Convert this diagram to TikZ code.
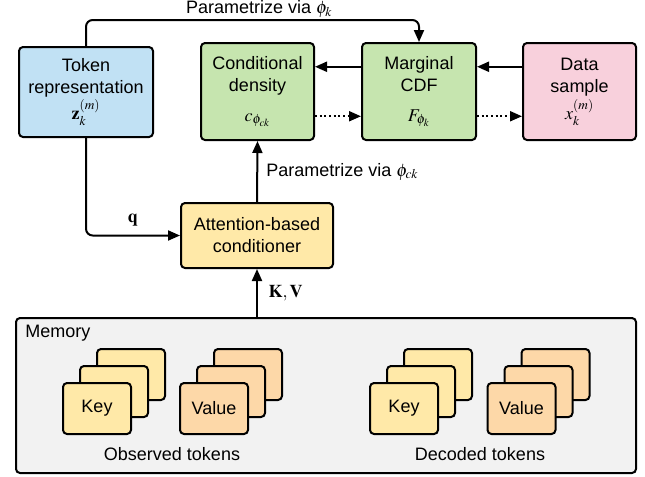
\documentclass[tikz,border=0pt]{standalone}
\usepackage{mathptmx}
\usepackage[no-math]{fontspec}
\setmainfont{Liberation Sans}
\usepackage{tikz}
\usetikzlibrary{calc,arrows.meta}

\definecolor{tokblue}{HTML}{C1E1F4}
\definecolor{densgreen}{HTML}{C6E5AF}
\definecolor{datapink}{HTML}{F8D0DC}
\definecolor{keyyellow}{HTML}{FFE9A8}
\definecolor{valorange}{HTML}{FDD8A8}
\definecolor{memgray}{HTML}{F2F2F2}

\tikzset{
	box/.style={draw, line width=1.5pt, rounded corners=3pt, align=center,
		font=\fontsize{13.5}{16.5}\selectfont, inner sep=0pt},
	card/.style={box, minimum width=51pt, minimum height=38.25pt},
	flow/.style={line width=1.5pt, ->, rounded corners=5pt},
	dotflow/.style={line width=1.5pt, ->, dotted},
	lbl/.style={font=\fontsize{13.5}{16.5}\selectfont, inner sep=0pt}
}

\begin{document}
\begin{tikzpicture}[x=0.75pt, y=-0.75pt, >={Triangle[length=9pt,width=7.5pt]}]
	\useasboundingbox (0,0) rectangle (645,476);

	% memory frame
	\node[box, fill=memgray, minimum width=465pt, minimum height=116.25pt] (mem) at (326,395.5) {};
	\node[lbl, anchor=west] (memlbl) at (25,333) {Memory};

	% stacks of key and value cards
	\foreach \cx/\nm in {97/okey, 404/dkey}{
		\node[card, fill=keyyellow] (\nm3) at (\cx+34,374.5) {};
		\node[card, fill=keyyellow] (\nm2) at (\cx+17,391.5) {};
		\node[card, fill=keyyellow] (\nm1) at (\cx,408.5) {Key};
	}
	\foreach \cx/\nm in {214/oval, 521.5/dval}{
		\node[card, fill=valorange] (\nm3) at (\cx+34,374.5) {};
		\node[card, fill=valorange] (\nm2) at (\cx+17,391.5) {};
		\node[card, fill=valorange] (\nm1) at (\cx,408.5) {Value};
	}
	\node[lbl] (obs) at (172,454) {Observed tokens};
	\node[lbl] (dec) at (480,454) {Decoded tokens};

	% upper boxes
	\node[box, fill=tokblue, minimum width=100.5pt, minimum height=67.5pt] (tok) at (86,92)
		{Token\\representation\\[1pt]$\mathbf{z}_k^{(m)}$};
	\node[box, fill=densgreen, minimum width=84.75pt, minimum height=72.75pt] (cond) at (257.5,91.5)
		{Conditional\\density\\[6pt]$c_{\phi_{ck}}$};
	\node[box, fill=densgreen, minimum width=85.5pt, minimum height=72.75pt] (mcdf) at (419,91.5)
		{Marginal\\CDF\\[6pt]$F_{\phi_k}$};
	\node[box, fill=datapink, minimum width=84.75pt, minimum height=72.75pt] (data) at (579.5,91.5)
		{Data\\sample\\[2pt]$x_k^{(m)}$};
	\node[box, fill=keyyellow, minimum width=114pt, minimum height=48.75pt] (att) at (257,235.5)
		{Attention-based\\conditioner};

	% connectors
	\coordinate (top) at (86,20);
	\draw[flow] (tok.north) -- (top) -| (mcdf.north)
		node[lbl, pos=0.26, above=1pt] {Parametrize via $\phi_k$};

	\coordinate (m1) at ($(mcdf.south west)!.75!(mcdf.north west)$);
	\coordinate (d1) at ($(data.south west)!.75!(data.north west)$);
	\draw[flow] (m1) -- (m1 -| cond.east);
	\draw[flow] (d1) -- (d1 -| mcdf.east);

	\coordinate (c2) at ($(cond.south east)!.25!(cond.north east)$);
	\coordinate (m2) at ($(mcdf.south east)!.25!(mcdf.north east)$);
	\draw[dotflow] (c2) -- (c2 -| mcdf.west);
	\draw[dotflow] (m2) -- (m2 -| data.west);

	\draw[flow] (tok.south) |- (att.west)
		node[lbl, pos=0.75, above=6pt] {$\mathbf{q}$};
	\draw[flow] (att.north) -- (cond.south)
		node[lbl, midway, right=6pt] {Parametrize via $\phi_{ck}$};
	\draw[flow] (att.south |- mem.north) -- (att.south)
		node[lbl, midway, right=8pt] {$\mathbf{K},\mathbf{V}$};
\end{tikzpicture}
\end{document}
